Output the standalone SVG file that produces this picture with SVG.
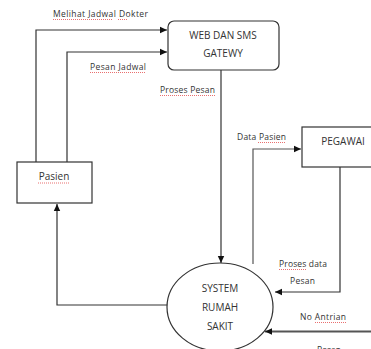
<svg xmlns="http://www.w3.org/2000/svg" width="371" height="349" viewBox="0 0 371 349">
<style>
.box{fill:#fff;stroke:#333;stroke-width:1.2}
.ln{fill:none;stroke:#333;stroke-width:1.2}
.t{font-family:"Open Sans","Liberation Sans",sans-serif;font-size:10px;fill:#333;text-anchor:middle}
.l{font-family:"Open Sans","Liberation Sans",sans-serif;font-size:8.5px;fill:#333}
.sq{fill:none;stroke:#e03030;stroke-width:0.7;stroke-dasharray:1 1}
</style>
<defs>
<marker id="ah" markerWidth="8" markerHeight="8" refX="7" refY="4" orient="auto" markerUnits="userSpaceOnUse">
<path d="M0,0.8 L7,4 L0,7.2 Z" fill="#111"/>
</marker>
</defs>
<rect width="371" height="349" fill="#fff"/>
<g id="connectors">
<path class="ln" d="M36,162 V30 H167" marker-end="url(#ah)"/>
<path class="ln" d="M67,162 V52 H167" marker-end="url(#ah)"/>
<path class="ln" d="M221,70 V263" marker-end="url(#ah)"/>
<path class="ln" d="M253,264 V149 H301" stroke-width="1.5" style="stroke:#555" marker-end="url(#ah)"/>
<path class="ln" d="M340,167 V292 H275" marker-end="url(#ah)"/>
<path class="ln" d="M371,331.5 H265" style="stroke:#555;stroke-width:2" marker-end="url(#ah)"/>
<path class="ln" d="M168,305 H57 V204" marker-end="url(#ah)"/>
<text class="l" x="53" y="17" textLength="95">Melihat Jadwal  Dokter</text>
<path class="sq" d="M53,19.5 H113 M118,19.5 H128"/>
<text class="l" x="90" y="70" textLength="56">Pesan Jadwal</text>
<path class="sq" d="M90,72.5 H146"/>
<text class="l" x="160" y="93" textLength="55">Proses Pesan</text>
<path class="sq" d="M160,95.5 H215"/>
<text class="l" x="237" y="140" textLength="49">Data Pasien</text>
<path class="sq" d="M258,142.5 H286"/>
<text class="l" x="279" y="267" textLength="48">Proses data</text>
<path class="sq" d="M279,269.5 H306"/>
<text class="l" x="290" y="284" textLength="25">Pesan</text>
<text class="l" x="300" y="320" textLength="46">No Antrian</text>
<path class="sq" d="M315,322.5 H346"/>
<text class="l" x="317" y="353" textLength="24">Pesan</text>
</g>
<g id="web">
<rect class="box" x="168" y="21" width="111" height="49" rx="6"/>
<text class="t" x="223" y="39">WEB DAN SMS</text>
<text class="t" x="223" y="57">GATEWY</text>
</g>
<g id="pegawai">
<rect class="box" x="302" y="127" width="80" height="40"/>
<text class="t" x="343" y="145">PEGAWAI</text>
</g>
<g id="pasien">
<rect class="box" x="17" y="162" width="75" height="41"/>
<text class="t" x="54" y="180">Pasien</text>
<path class="sq" d="M38,183 H70"/>
</g>
<g id="system">
<ellipse class="box" cx="220" cy="307" rx="53" ry="44"/>
<text class="t" x="220" y="292">SYSTEM</text>
<text class="t" x="220" y="311">RUMAH</text>
<text class="t" x="220" y="330">SAKIT</text>
</g>
</svg>
